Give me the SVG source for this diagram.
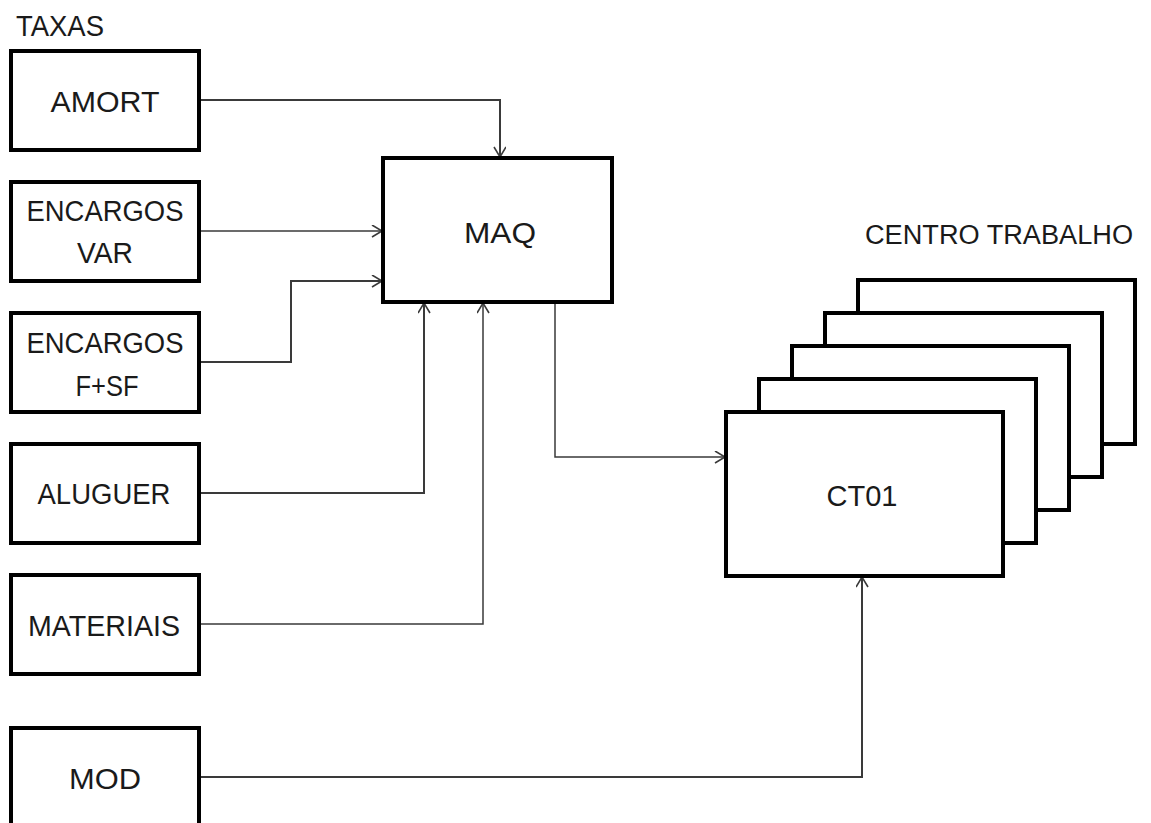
<svg xmlns="http://www.w3.org/2000/svg" width="1151" height="823" viewBox="0 0 1151 823">
<style>
.box{fill:#fff;stroke:#000;stroke-width:4}
.t{font-family:"Liberation Sans",Arial,sans-serif;font-size:30px;fill:#1a1a1a;text-anchor:middle}
.tl{font-family:"Liberation Sans",Arial,sans-serif;font-size:30px;fill:#1a1a1a}
.c{fill:none;stroke:#3a3a3a;stroke-width:2}
.c1{fill:none;stroke:#3a3a3a;stroke-width:1.5}
</style>
<defs>
<marker id="arr" markerUnits="userSpaceOnUse" markerWidth="16" markerHeight="16" refX="11" refY="6" orient="auto">
<path d="M1,0 L11,6 L1,12" fill="none" stroke="#3a3a3a" stroke-width="1.6"/>
</marker>
</defs>
<rect width="1151" height="823" fill="#fff"/>
<text class="tl" x="16" y="36" textLength="88" lengthAdjust="spacingAndGlyphs">TAXAS</text>
<text class="tl" x="865" y="244" style="font-size:27px" textLength="268" lengthAdjust="spacingAndGlyphs">CENTRO TRABALHO</text>

<g id="connectors">
<path class="c" d="M200,100 H500 V157" marker-end="url(#arr)"/>
<path class="c1" d="M200,231 H382" marker-end="url(#arr)"/>
<path class="c" d="M200,362 H291 V281 H382" marker-end="url(#arr)"/>
<path class="c" d="M200,493 H424 V303" marker-end="url(#arr)"/>
<path class="c1" d="M200,624 H483 V303" marker-end="url(#arr)"/>
<path class="c1" d="M555,302 V457 H725" marker-end="url(#arr)"/>
<path class="c" d="M200,777 H862 V577" marker-end="url(#arr)"/>
</g>

<g id="amort"><rect class="box" x="11" y="51" width="188" height="99"/><text class="t" x="105" y="112" textLength="109" lengthAdjust="spacingAndGlyphs">AMORT</text></g>
<g id="encargos-var"><rect class="box" x="11" y="182" width="188" height="99"/><text class="t" x="105" y="221" textLength="157" lengthAdjust="spacingAndGlyphs">ENCARGOS</text><text class="t" x="105" y="263" textLength="56" lengthAdjust="spacingAndGlyphs">VAR</text></g>
<g id="encargos-fsf"><rect class="box" x="11" y="313" width="188" height="99"/><text class="t" x="105" y="353" textLength="157" lengthAdjust="spacingAndGlyphs">ENCARGOS</text><text class="t" x="107" y="396" textLength="63" lengthAdjust="spacingAndGlyphs">F+SF</text></g>
<g id="aluguer"><rect class="box" x="11" y="444" width="188" height="99"/><text class="t" x="104" y="504" textLength="133" lengthAdjust="spacingAndGlyphs">ALUGUER</text></g>
<g id="materiais"><rect class="box" x="11" y="575" width="188" height="99"/><text class="t" x="104" y="636" textLength="152" lengthAdjust="spacingAndGlyphs">MATERIAIS</text></g>
<g id="mod"><rect class="box" x="11" y="728" width="188" height="110"/><text class="t" x="105" y="789" textLength="72" lengthAdjust="spacingAndGlyphs">MOD</text></g>

<g id="maq"><rect class="box" x="383" y="158" width="229" height="144"/><text class="t" x="500" y="243" textLength="72" lengthAdjust="spacingAndGlyphs">MAQ</text></g>

<g id="ct05"><rect class="box" x="858" y="280" width="277" height="164"/></g>
<g id="ct04"><rect class="box" x="825" y="313" width="277" height="164"/></g>
<g id="ct03"><rect class="box" x="792" y="346" width="277" height="164"/></g>
<g id="ct02"><rect class="box" x="759" y="379" width="277" height="164"/></g>
<g id="ct01"><rect class="box" x="726" y="412" width="277" height="164"/><text class="t" x="862" y="506" textLength="71" lengthAdjust="spacingAndGlyphs">CT01</text></g>
</svg>
